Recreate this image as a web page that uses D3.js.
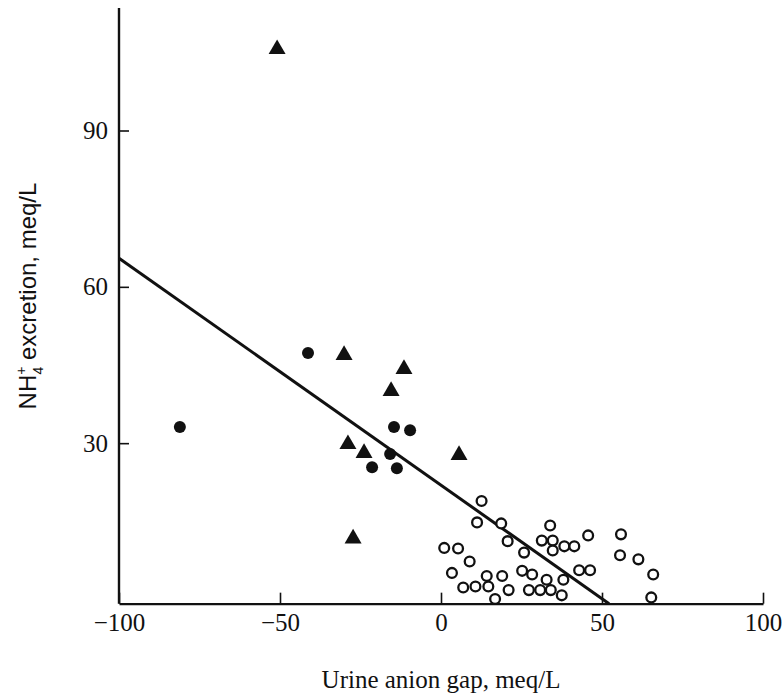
<!DOCTYPE html>
<html>
  <head>
    <meta charset="utf-8">
    <style>
      body { margin: 0; background: #fff; }
    </style>
    <script src="https://d3js.org/d3.v7.min.js"></script>
  </head>
  <body>
    <svg></svg>
    <script>
    // ---- data ----
    var xTicks = [-100, -50, 0, 50, 100];
    var yTicks = [30, 60, 90];

    // filled circles [anion gap, NH4 excretion]
    var filledCircles = [
      [-81.1, 33.1], [-41.3, 47.3], [-14.6, 33.1], [-9.6, 32.5],
      [-15.8, 27.9], [-21.4, 25.4], [-13.7, 25.2]
    ];

    // filled triangles
    var triangles = [
      [-50.9, 105.6], [-30.1, 46.9], [-11.5, 44.2], [-15.5, 40.0],
      [-28.9, 29.8], [-23.9, 28.1], [5.6, 27.7], [-27.3, 11.7]
    ];

    // open circles
    var openCircles = [
      [12.6, 18.9], [11.2, 14.8], [18.7, 14.6], [20.7, 11.2], [1.0, 9.9],
      [5.3, 9.8], [25.8, 9.0], [8.9, 7.3], [3.4, 5.1], [14.2, 4.5],
      [19.0, 4.5], [25.2, 5.5], [28.3, 4.8], [32.8, 3.8], [6.9, 2.3],
      [10.7, 2.5], [14.7, 2.5], [21.0, 1.8], [16.8, 0.1], [27.3, 1.8],
      [30.8, 1.8], [34.1, 1.8], [37.5, 0.8], [38.0, 3.8], [33.9, 14.2],
      [31.3, 11.3], [34.7, 11.3], [38.3, 10.2], [41.4, 10.2], [34.7, 9.4],
      [45.7, 12.3], [42.9, 5.6], [46.3, 5.6], [55.9, 12.5], [55.6, 8.5],
      [61.3, 7.7], [65.9, 4.8], [65.3, 0.4]
    ];

    // regression line end points
    var fitLine = [[-100, 65.5], [52.2, -0.8]];

    var width = 784;
    var height = 694;

    var svg = d3.select("svg")
        .attr("width", width)
        .attr("height", height);

    var x = d3.scaleLinear()
        .domain([-100, 100])
        .range([119, 763]);

    var y = d3.scaleLinear()
        .domain([0, 90])
        .range([599.5, 130.5]);

    var yBottom = -0.8, yTop = 113.5;
    var serif = "'Liberation Serif', 'Times New Roman', serif";

    // x axis: ticks point up into the plot
    var xAxis = svg.append("g")
        .attr("transform", "translate(0," + y(yBottom) + ")")
        .call(d3.axisTop(x).tickValues(xTicks).tickSize(11).tickSizeOuter(0)
            .tickFormat(function(d) { return d < 0 ? "\u2212" + Math.abs(d) : d; }));
    xAxis.select(".domain").attr("stroke", "#111").attr("stroke-width", 2.4);
    xAxis.selectAll(".tick line").attr("stroke", "#111").attr("stroke-width", 1.6);
    xAxis.selectAll(".tick text")
        .attr("y", 27)
        .attr("font-family", serif)
        .attr("font-size", 25)
        .attr("fill", "#111");

    // y axis: ticks point right into the plot
    var yAxis = svg.append("g")
        .attr("transform", "translate(" + x(-100) + ",0)")
        .call(d3.axisRight(y).tickValues(yTicks).tickSize(10).tickSizeOuter(0));
    yAxis.select(".domain").remove();
    yAxis.append("line")
        .attr("y1", y(yTop)).attr("y2", y(yBottom))
        .attr("stroke", "#111").attr("stroke-width", 2.4);
    yAxis.selectAll(".tick line").attr("stroke", "#111").attr("stroke-width", 1.6);
    yAxis.selectAll(".tick text")
        .attr("x", -11)
        .attr("text-anchor", "end")
        .attr("font-family", serif)
        .attr("font-size", 25)
        .attr("fill", "#111");

    // regression line
    svg.append("line")
        .attr("x1", x(fitLine[0][0])).attr("y1", y(fitLine[0][1]))
        .attr("x2", x(fitLine[1][0])).attr("y2", y(fitLine[1][1]))
        .attr("stroke", "#111")
        .attr("stroke-width", 3);

    // open circles
    svg.append("g").selectAll("circle")
        .data(openCircles)
        .enter().append("circle")
          .attr("cx", function(d) { return x(d[0]); })
          .attr("cy", function(d) { return y(d[1]); })
          .attr("r", 4.9)
          .attr("fill", "#fff")
          .attr("stroke", "#111")
          .attr("stroke-width", 2.3);

    // filled circles
    svg.append("g").selectAll("circle")
        .data(filledCircles)
        .enter().append("circle")
          .attr("cx", function(d) { return x(d[0]); })
          .attr("cy", function(d) { return y(d[1]); })
          .attr("r", 6)
          .attr("fill", "#111");

    // triangles
    var tri = d3.symbol().type(d3.symbolTriangle).size(125);
    svg.append("g").selectAll("path")
        .data(triangles)
        .enter().append("path")
          .attr("d", tri)
          .attr("transform", function(d) {
              return "translate(" + x(d[0]) + "," + y(d[1]) + ")"; })
          .attr("fill", "#111");

    // axis titles
    svg.append("text")
        .attr("x", x(0))
        .attr("y", 688)
        .attr("text-anchor", "middle")
        .attr("font-family", serif)
        .attr("font-size", 25)
        .attr("fill", "#111")
        .text("Urine anion gap, meq/L");

    var ylab = svg.append("text")
        .attr("transform", "translate(36,296) rotate(-90)")
        .attr("text-anchor", "middle")
        .attr("font-family", "'Liberation Sans', Arial, sans-serif")
        .attr("font-size", 24)
        .attr("fill", "#111");
    ylab.append("tspan").text("NH");
    ylab.append("tspan").attr("font-size", 14).attr("dy", -10).text("+");
    ylab.append("tspan").attr("font-size", 14).attr("dx", -8).attr("dy", 17).text("4");
    ylab.append("tspan").attr("dy", -7).text(" excretion, meq/L");
    </script>
  </body>
</html>
